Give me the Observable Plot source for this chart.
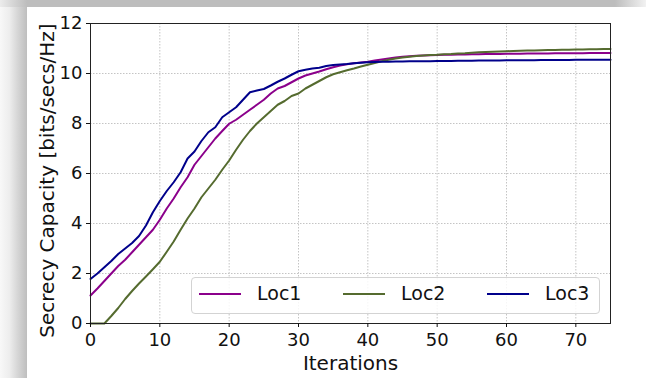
<!DOCTYPE html>
<html><head><meta charset="utf-8">
<script src="https://cdn.jsdelivr.net/npm/d3@7"></script>
<script src="https://cdn.jsdelivr.net/npm/@observablehq/plot@0.6"></script>
<style>
body{margin:0;background:#fff;}
#wrap{position:relative;width:646px;height:378px;overflow:hidden;background:#fff;font-family:"DejaVu Sans",sans-serif;}
#shL{position:absolute;left:0;top:0;width:27px;height:378px;background:linear-gradient(to right,#f8f8f8 0%,#ededed 35%,#d6d6d6 65%,#bebebe 100%);}
#shT{position:absolute;left:0;top:0;width:646px;height:7px;background:linear-gradient(to right,#ececec 0px,#bdbdbd 27px,#bdbdbd 615px,#f2f2f2 646px);}
#chart{position:absolute;left:0;top:0;}
#legend{position:absolute;left:191px;top:277px;width:407px;height:35px;border:1px solid #d3d3d3;border-radius:4px;background:rgba(255,255,255,0.85);}
.li{position:absolute;height:2px;top:293px;}
.lt{position:absolute;top:282px;font-size:19px;line-height:22px;color:#111;font-family:"DejaVu Sans",sans-serif;}
</style></head>
<body>
<div id="wrap"><div id="shL"></div><div id="shT"></div><div id="chart"></div><div id="legend"></div></div>
<script>
const seriesNames = ["Loc1", "Loc2", "Loc3"];
const seriesColors = ["#8b008b", "#556b2f", "#00008b"];
const xTicks = [0, 10, 20, 30, 40, 50, 60, 70];
const yTicks = [0, 2, 4, 6, 8, 10, 12];
const iterations = d3.range(0, 76);

const loc1 = [1.12,1.4,1.7,2.0,2.3,2.55,2.85,3.15,3.45,3.75,4.15,4.6,5.0,5.45,5.85,6.35,6.7,7.05,7.4,7.7,
  7.99,8.15,8.35,8.55,8.75,8.95,9.2,9.4,9.5,9.65,9.8,9.92,10.0,10.08,10.17,10.25,10.32,10.37,10.41,10.44,
  10.47,10.52,10.56,10.6,10.64,10.67,10.69,10.71,10.72,10.73,10.74,
  10.75,10.75,10.76,10.76,10.77,10.77,10.78,10.78,10.78,10.79,10.79,10.79,10.80,10.80,10.80,10.80,10.81,10.81,10.81,10.81,10.81,10.82,10.82,10.82,10.82];
const loc2 = [0,0,0,0.3,0.62,0.98,1.3,1.6,1.88,2.17,2.47,2.87,3.28,3.75,4.2,4.6,5.05,5.4,5.75,6.15,
  6.52,6.95,7.35,7.7,8.0,8.25,8.5,8.75,8.9,9.1,9.2,9.4,9.55,9.7,9.85,9.97,10.05,10.13,10.2,10.28,
  10.35,10.42,10.49,10.55,10.6,10.64,10.67,10.7,10.72,10.74,10.75,
  10.77,10.78,10.80,10.81,10.83,10.85,10.86,10.87,10.88,10.89,10.90,10.91,10.92,10.92,10.93,10.94,10.94,10.95,10.95,10.96,10.96,10.97,10.97,10.98,10.98];
const loc3 = [1.78,2.0,2.25,2.5,2.78,3.0,3.22,3.5,3.92,4.45,4.9,5.3,5.65,6.05,6.6,6.88,7.3,7.65,7.85,8.25,
  8.45,8.65,8.95,9.25,9.32,9.38,9.52,9.67,9.8,9.95,10.09,10.15,10.2,10.23,10.3,10.34,10.36,10.38,10.41,10.43,
  10.45,10.46,10.47,10.47,10.48,10.48,10.49,10.49,10.49,10.49,10.5,
  10.50,10.50,10.51,10.51,10.51,10.52,10.52,10.52,10.52,10.53,10.53,10.53,10.53,10.53,10.54,10.54,10.54,10.54,10.54,10.55,10.55,10.55,10.55,10.55,10.55];
const seriesValues = [loc1, loc2, loc3];
const xLabel = "Iterations";
const yLabel = "Secrecy Capacity [bits/secs/Hz]";

const data = seriesNames.flatMap((name, s) => seriesValues[s].map((v, i) => ({name, it: iterations[i], v})));

const grid = {stroke: "#c4c4c4", strokeOpacity: 1, strokeDasharray: "1.5,1.5", strokeWidth: 1};

const chart = Plot.plot({
  width: 646, height: 378,
  marginLeft: 90, marginRight: 36, marginTop: 23, marginBottom: 55,
  style: {background: "transparent", fontFamily: "DejaVu Sans", fontSize: "18px", color: "#111", overflow: "visible"},
  x: {domain: [0, 75]},
  y: {domain: [0, 12]},
  color: {domain: seriesNames, range: seriesColors},
  marks: [
    Plot.gridX(xTicks, grid),
    Plot.gridY(yTicks, grid),
    Plot.line(data, {x: "it", y: "v", stroke: "name", strokeWidth: 2}),
    Plot.frame({stroke: "#222", strokeWidth: 1}),
    Plot.axisX(xTicks, {tickSize: 4, tickPadding: 6, label: null, fontSize: 18}),
    Plot.axisY(yTicks, {tickSize: 4, tickPadding: 4, label: null, fontSize: 18}),
    Plot.text([xLabel], {text: d => d, frameAnchor: "bottom", dy: 40, lineAnchor: "middle", textAnchor: "middle", fontSize: 20, fill: "#111"}),
    Plot.text([yLabel], {text: d => d, frameAnchor: "left", dx: -43, dy: 7, rotate: -90, lineAnchor: "middle", textAnchor: "middle", fontSize: 20, fill: "#111"})
  ]
});
document.getElementById("chart").appendChild(chart);

// legend
const wrap = document.getElementById("wrap");
const lineX = [199, 343, 487];
const textX = [257, 401, 545];
seriesNames.forEach((n, i) => {
  const l = document.createElement("div");
  l.className = "li"; l.style.left = lineX[i] + "px"; l.style.width = "42px"; l.style.background = seriesColors[i];
  wrap.appendChild(l);
  const t = document.createElement("div");
  t.className = "lt"; t.style.left = textX[i] + "px"; t.textContent = n;
  wrap.appendChild(t);
});
</script>
</body></html>
